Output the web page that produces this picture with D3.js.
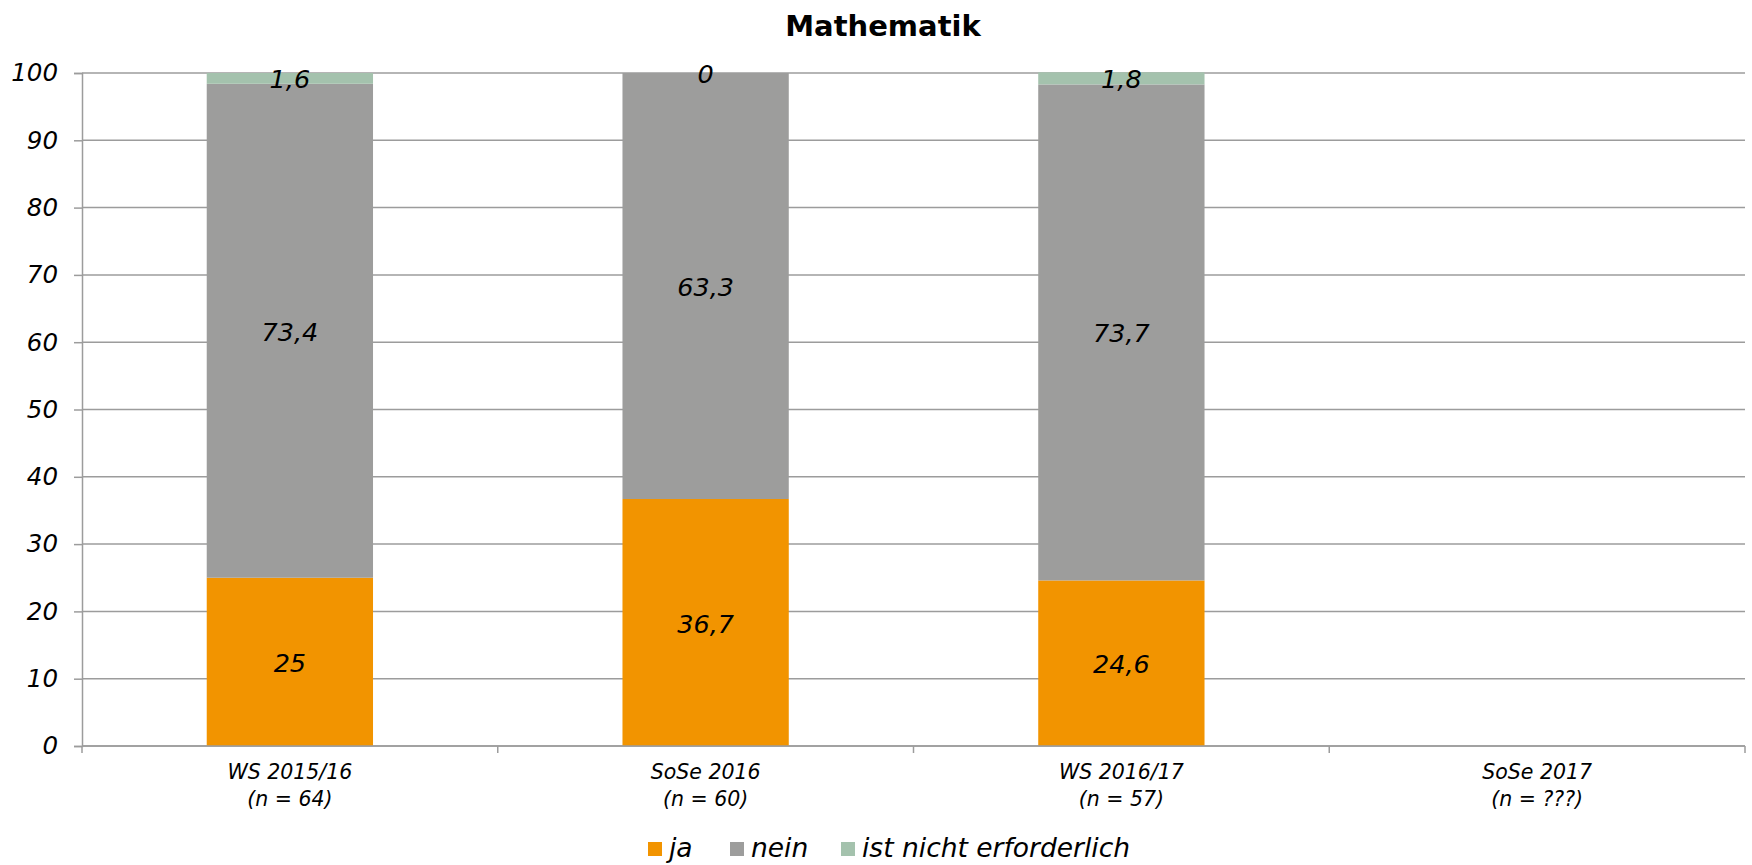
<!DOCTYPE html>
<html><head><meta charset="utf-8">
<script src="https://cdn.jsdelivr.net/npm/d3@7"></script>
<style>
html,body{margin:0;padding:0;background:#fff;}
text{font-family:"DejaVu Sans",sans-serif;fill:#000;}
</style></head>
<body>
<svg id="chart" width="1752" height="865"></svg>
<script>
const categories = ["WS 2015/16", "SoSe 2016", "WS 2016/17", "SoSe 2017"];
const sampleSizes = ["(n = 64)", "(n = 60)", "(n = 57)", "(n = ???)"];
const seriesNames = ["ja", "nein", "ist nicht erforderlich"];
const jaValues = [25, 36.7, 24.6, null];
const neinValues = [73.4, 63.3, 73.7, null];
const nichtValues = [1.6, 0, 1.8, null];
const yTicks = [0, 10, 20, 30, 40, 50, 60, 70, 80, 90, 100];
const colors = ["#F29400", "#9D9D9C", "#A4C2AD"];

const W = 1752, H = 865;
const margin = {top: 73, right: 7, bottom: 119, left: 82};
const svg = d3.select("#chart");
const iw = W - margin.left - margin.right, ih = H - margin.top - margin.bottom;
const g = svg.append("g").attr("transform", `translate(${margin.left},${margin.top})`);

const x = d3.scaleBand().domain(categories).range([0, iw]).paddingInner(0.6).paddingOuter(0.3);
const xb = d3.scaleBand().domain(categories).range([0, iw]);
const y = d3.scaleLinear().domain([0, 100]).range([ih, 0]);

// gridlines
g.selectAll(".grid").data(yTicks).enter().append("line")
  .attr("x1", 0).attr("x2", iw)
  .attr("y1", d => y(d)).attr("y2", d => y(d))
  .attr("stroke", "#9C9C9C").attr("stroke-width", 1.5);

// y axis
const yAxis = g.append("g").call(d3.axisLeft(y).tickValues(yTicks).tickSize(8).tickPadding(16).tickFormat(d3.format("d")));
yAxis.select(".domain").attr("stroke", "#9C9C9C").attr("stroke-width", 1.5);
yAxis.selectAll(".tick line").attr("stroke", "#9C9C9C").attr("stroke-width", 1.5);
yAxis.selectAll(".tick text").style("font-size", "24.5px").style("font-style", "italic").attr("fill", "#000");

// stacked data
const rows = categories.map((c, i) => ({cat: c, ja: jaValues[i], nein: neinValues[i], nicht: nichtValues[i]}));
const keys = ["ja", "nein", "nicht"];
const stack = d3.stack().keys(keys).value((d, k) => d[k] == null ? 0 : d[k]);
const series = stack(rows);

series.forEach((s, si) => {
  const grp = g.append("g");
  grp.selectAll("rect").data(s.filter(d => d.data[keys[si]] != null)).enter().append("rect")
    .attr("x", d => x(d.data.cat)).attr("width", x.bandwidth())
    .attr("y", d => y(d[1])).attr("height", d => y(d[0]) - y(d[1]))
    .attr("fill", colors[si]);
});
series.forEach((s, si) => {
  g.append("g").selectAll("text").data(s.filter(d => d.data[keys[si]] != null)).enter().append("text")
    .attr("x", d => x(d.data.cat) + x.bandwidth() / 2)
    .attr("y", d => y((d[0] + d[1]) / 2) + 1)
    .attr("text-anchor", "middle").attr("dominant-baseline", "central")
    .style("font-size", "25.5px").style("font-style", "italic")
    .text(d => String(d.data[keys[si]]).replace(".", ","));
});

// x axis
const xAxisG = g.append("g").attr("transform", `translate(0,${ih})`);
xAxisG.append("line").attr("x1", 0).attr("x2", iw).attr("y1", 0).attr("y2", 0)
  .attr("stroke", "#9C9C9C").attr("stroke-width", 1.5);
const bounds = categories.map(c => xb(c)).concat([iw]);
xAxisG.selectAll(".xt").data(bounds).enter().append("line")
  .attr("x1", d => d).attr("x2", d => d).attr("y1", 0).attr("y2", 7)
  .attr("stroke", "#9C9C9C").attr("stroke-width", 1.5);
const xl = xAxisG.selectAll(".xl").data(categories).enter().append("text")
  .attr("text-anchor", "middle").style("font-size", "20.5px").style("font-style", "italic")
  .attr("transform", d => `translate(${xb(d) + xb.bandwidth() / 2},0)`);
xl.append("tspan").attr("x", 0).attr("y", 33).text(d => d);
xl.append("tspan").attr("x", 0).attr("y", 60).text((d, i) => sampleSizes[i]);

// title
svg.append("text").attr("x", 883).attr("y", 36).attr("text-anchor", "middle")
  .style("font-size", "29px").style("font-weight", "bold").text("Mathematik");

// legend
const legend = svg.append("g");
const legX = [648, 730, 841];
seriesNames.forEach((n, i) => {
  legend.append("rect").attr("x", legX[i]).attr("y", 842).attr("width", 14).attr("height", 14).attr("fill", colors[i]);
  legend.append("text").attr("x", legX[i] + 21).attr("y", 857)
    .style("font-size", "26.5px").style("font-style", "italic").text(n);
});
</script>
</body></html>
